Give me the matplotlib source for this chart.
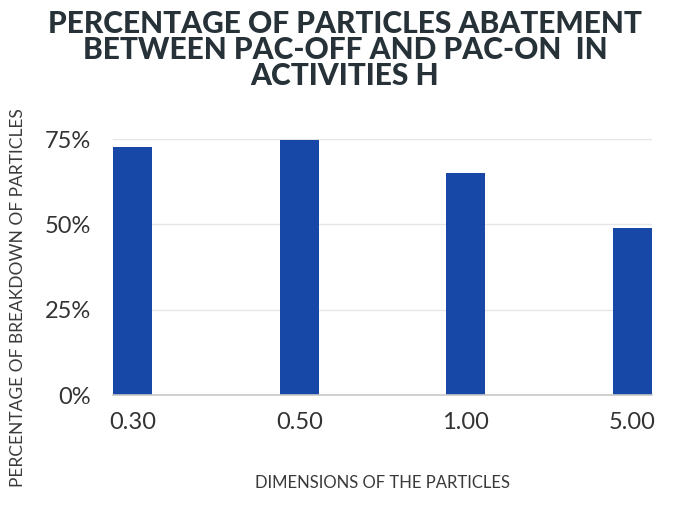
import matplotlib
matplotlib.use("Agg")
import matplotlib.pyplot as plt
from matplotlib.ticker import FuncFormatter

categories = ["0.30", "0.50", "1.00", "5.00"]
values = [72.8, 74.8, 65.0, 48.9]
yticks = [0, 25, 50, 75]

title = "PERCENTAGE OF PARTICLES ABATEMENT\nBETWEEN PAC-OFF AND PAC-ON  IN\nACTIVITIES H"
xlabel = "DIMENSIONS OF THE PARTICLES"
ylabel = "PERCENTAGE OF BREAKDOWN OF PARTICLES"

bar_color = "#1748A8"
text_dark = "#263238"
tick_color = "#333333"

fig = plt.figure(figsize=(6.9, 5.13), dpi=100)
ax = fig.add_axes([113/690, 1-395/513, (652-113)/690, (395-139)/513])

x = list(range(len(categories)))
w = 0.235
ax.bar(x, values, width=w, color=bar_color, zorder=3)
ax.set_xlim(-w/2, len(categories)-1 + w/2)
ax.set_ylim(0, 75)
ax.set_yticks(yticks)
ax.yaxis.set_major_formatter(FuncFormatter(lambda v, p: f"{v:.0f}%"))
ax.set_xticks(x)
ax.set_xticklabels(categories)
ax.grid(axis="y", color="#e6e6e6", linewidth=1, zorder=0)
for s in ["top", "right", "left"]:
    ax.spines[s].set_visible(False)
ax.spines["bottom"].set_color("#c8c8c8")
ax.spines["bottom"].set_linewidth(1.2)
ax.spines["bottom"].set_zorder(4)
ax.tick_params(axis="both", length=0, labelsize=17, labelcolor=tick_color)
ax.tick_params(axis="x", pad=12)
ax.tick_params(axis="y", pad=16)
for lbl in ax.get_xticklabels() + ax.get_yticklabels():
    lbl.set_family("Lato")

fig.text(0.5, 1-50/513, title, ha="center", va="center", fontsize=21.5,
         fontweight="black", family="Lato", color=text_dark, linespacing=0.92)
fig.text((113+652)/2/690, 1-483/513, xlabel, ha="center", va="center",
         fontsize=12, family="Lato", color="#3a3a3a")
fig.text(18/690, 1-298/513, ylabel, ha="center", va="center", rotation=90,
         fontsize=12.5, family="Lato", color="#3a3a3a")

fig.savefig("out.png", dpi=100, facecolor="white")
